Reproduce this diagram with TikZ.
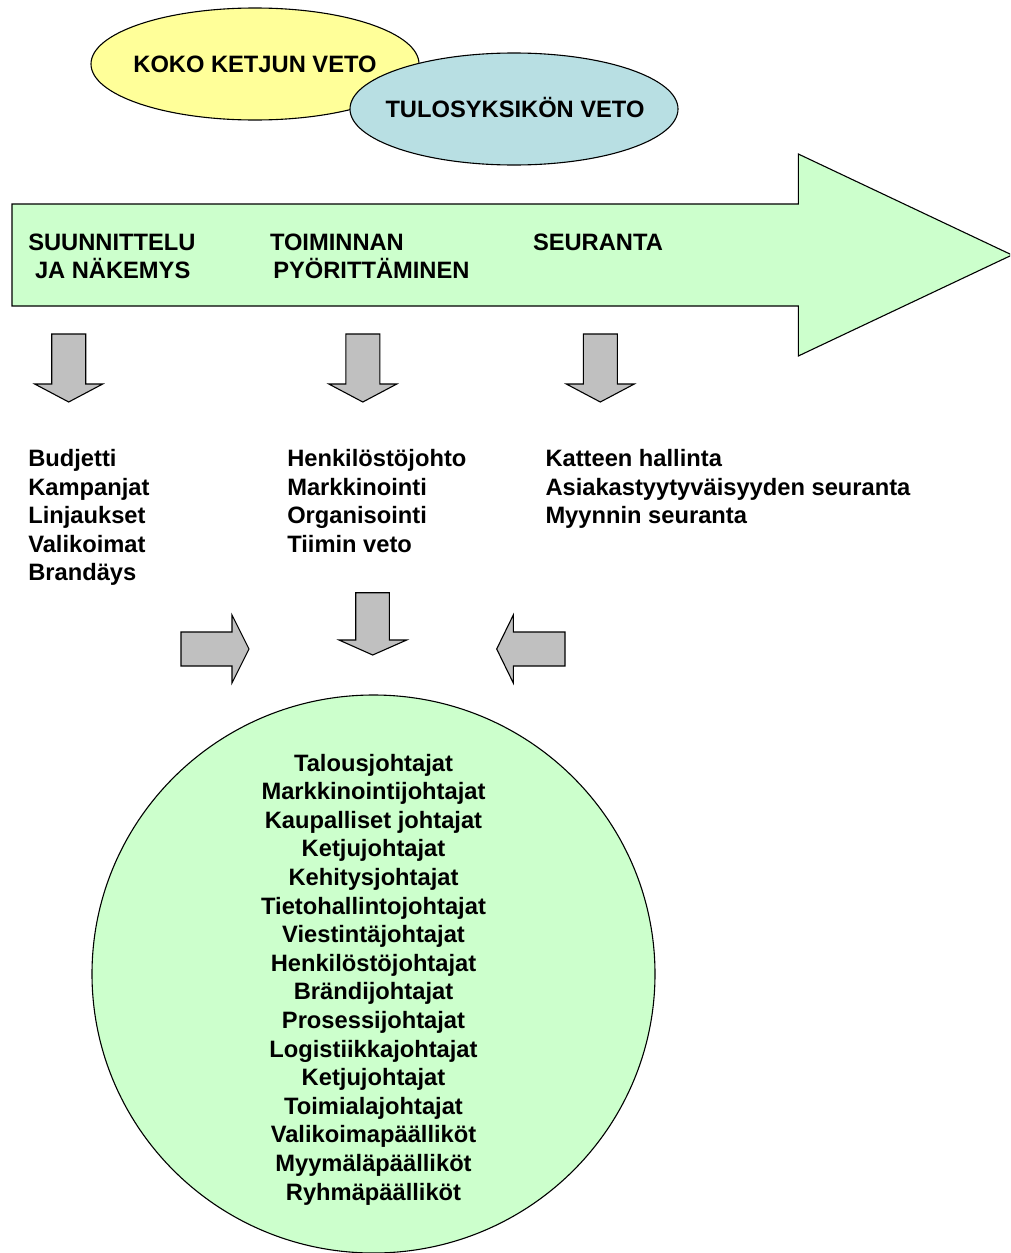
\documentclass[tikz,border=0pt]{standalone}
\usepackage{fontspec}
\setmainfont{Liberation Sans}
\definecolor{lgreen}{HTML}{CCFFCC}
\definecolor{lyellow}{HTML}{FFFF99}
\definecolor{lblue}{HTML}{B8DFE3}
\definecolor{agray}{HTML}{C0C0C0}
\begin{document}
\begin{tikzpicture}[x=1pt,y=-1pt,
  lbl/.style={font=\fontsize{23.7}{28}\selectfont\bfseries, inner sep=0pt, outer sep=0pt},
  shapeline/.style={draw=black, line width=1.1pt, line join=miter},
  grayarrow/.style={shapeline, fill=agray}]
\clip (0,0) rectangle (1010,1253);
\useasboundingbox (0,0) rectangle (1010,1253);

% ellipses
\draw[shapeline, fill=lyellow] (255,64) ellipse [x radius=164pt, y radius=56pt];
\draw[shapeline, fill=lblue] (514,109) ellipse [x radius=164pt, y radius=56pt];
\node[lbl, anchor=base] (koko) at (255,72.3) {KOKO KETJUN VETO};
\node[lbl, anchor=base] (tulos) at (515,117.3) {TULOSYKSIKÖN VETO};

% big arrow
\draw[shapeline, fill=lgreen] (12,204) -- (798.3,204) -- (798.3,154) -- (1012,255)
  -- (798.3,356) -- (798.3,306) -- (12,306) -- cycle;
\node[lbl, anchor=base west] (s1) at (28.3,250.3) {SUUNNITTELU};
\node[lbl, anchor=base west] (s2) at (35,278.3) {JA NÄKEMYS};
\node[lbl, anchor=base west] (t1) at (270,250.3) {TOIMINNAN};
\node[lbl, anchor=base west] (t2) at (273.3,278.3) {PYÖRITTÄMINEN};
\node[lbl, anchor=base west] (r1) at (533,250.3) {SEURANTA};

% down arrows (top row)
\foreach \cx in {68.7,362.8,600.3}{
  \draw[grayarrow] (\cx-17,334) -- (\cx+17,334) -- (\cx+17,384) -- (\cx+34,384)
    -- (\cx,402) -- (\cx-34,384) -- (\cx-17,384) -- cycle;
}

% lists
\foreach \t [count=\i from 0] in {Budjetti,Kampanjat,Linjaukset,Valikoimat,Brandäys}
  \node[lbl, anchor=base west] (a\i) at (28.3,466.5+28.5*\i) {\t};
\foreach \t [count=\i from 0] in {Henkilöstöjohto,Markkinointi,Organisointi,Tiimin veto}
  \node[lbl, anchor=base west] (b\i) at (287.3,466.5+28.5*\i) {\t};
\foreach \t [count=\i from 0] in {Katteen hallinta,Asiakastyytyväisyyden seuranta,Myynnin seuranta}
  \node[lbl, anchor=base west] (c\i) at (545.5,466.5+28.5*\i) {\t};

% converging arrows
\draw[grayarrow] (181,632) -- (232,632) -- (232,615) -- (249,649) -- (232,683)
  -- (232,666) -- (181,666) -- cycle;
\draw[grayarrow] (565,632) -- (513.3,632) -- (513.3,615) -- (496.7,649) -- (513.3,683)
  -- (513.3,666) -- (565,666) -- cycle;
\draw[grayarrow] (355.7,592.7) -- (389.3,592.7) -- (389.3,640) -- (406.7,640)
  -- (372.7,655) -- (339,640) -- (355.7,640) -- cycle;

% circle
\draw[shapeline, fill=lgreen] (373.5,974) ellipse [x radius=281.5pt, y radius=279pt];
\foreach \t [count=\i from 0] in {Talousjohtajat,Markkinointijohtajat,Kaupalliset johtajat,
  Ketjujohtajat,Kehitysjohtajat,Tietohallintojohtajat,Viestintäjohtajat,
  Henkilöstöjohtajat,Brändijohtajat,Prosessijohtajat,Logistiikkajohtajat,
  Ketjujohtajat,Toimialajohtajat,Valikoimapäälliköt,Myymäläpäälliköt,Ryhmäpäälliköt}
  \node[lbl, anchor=base] (d\i) at (373.5,771+28.6*\i) {\t};
\end{tikzpicture}
\end{document}
